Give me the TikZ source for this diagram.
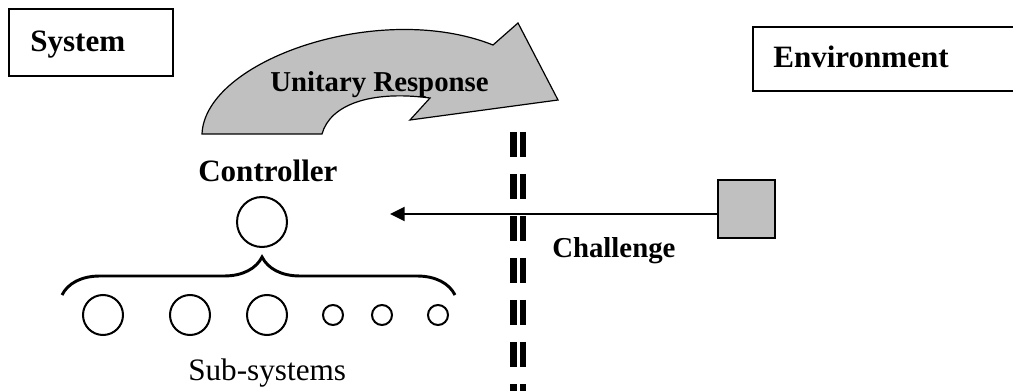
\documentclass[tikz,border=0pt]{standalone}
\usepackage{fontspec}
\setmainfont{Liberation Serif}
\usetikzlibrary{decorations.pathreplacing,arrows.meta}
\definecolor{shade}{HTML}{C0C0C0}
\begin{document}
\begin{tikzpicture}[x=0.75pt,y=-0.75pt,
  frame/.style={draw, line width=1.2pt, inner sep=0pt},
  bigtxt/.style={anchor=base west, inner sep=0pt, font=\fontsize{23.3pt}{28pt}\selectfont\bfseries},
  midtxt/.style={anchor=base west, inner sep=0pt, font=\fontsize{21.6pt}{26pt}\selectfont\bfseries},
  plaintxt/.style={anchor=base west, inner sep=0pt, font=\fontsize{23.4pt}{28pt}\selectfont},
  unit/.style={draw, circle, line width=1.5pt, inner sep=0pt},
  ctrl/.style={unit, minimum size=37.5pt},
  bigsub/.style={unit, minimum size=30pt},
  smallsub/.style={unit, minimum size=15pt},
  barrier/.style={line width=4.9pt, dash pattern=on 18.75pt off 12.75pt},
  response/.style={draw, line width=0.9pt, fill=shade, line join=miter}
]
\useasboundingbox (0,0) rectangle (1013,391);

% system and environment frames
\node[frame, minimum width=123pt, minimum height=50.25pt] (sys) at (91,42.5) {};
\node[bigtxt] (systxt) at (30,52) {System};
\node[frame, minimum width=200.25pt, minimum height=48pt] (env) at (886.5,59) {};
\node[bigtxt] (envtxt) at (773,68) {Environment};

% curved response arrow
\path[response] (202,134) .. controls (205,60) and (380,0) .. (493,45)
  -- (518,23) -- (558,100) -- (410,120) -- (430,98)
  .. controls (370,90) and (330,105) .. (322,134) -- cycle;
\node[midtxt] (resp) at (270,92) {Unitary Response};

% boundary between system and environment
\draw[barrier] (513.3,132) -- (513.3,400);
\draw[barrier] (523,132) -- (523,400);

% controller and sub-systems
\node[bigtxt] (ctrltxt) at (198,182) {Controller};
\node[ctrl] (ctrl) at (262,222) {};
\coordinate (bl) at (62,295);
\coordinate (br) at (455,295);
\draw[line width=2.2pt, decorate, decoration={brace, amplitude=28.5pt, aspect=0.509}] (bl) -- (br);
\node[bigsub] (s1) at (103,315) {};
\node[bigsub] (s2) at (190,315) {};
\node[bigsub] (s3) at (267,315) {};
\node[smallsub] (s4) at (333,315) {};
\node[smallsub] (s5) at (382,315) {};
\node[smallsub] (s6) at (438,315) {};
\node[plaintxt] (subtxt) at (188,380) {Sub-systems};

% challenge from the environment
\node[draw, line width=1.5pt, fill=shade, minimum size=43pt, inner sep=0pt] (sq) at (746.5,209) {};
\coordinate (ctip) at (390,214);
\draw[line width=1.5pt, {Triangle[length=11pt,width=10.5pt]}-] (ctip) -- (ctip -| sq.west);
\node[midtxt] (chal) at (552,258) {Challenge};
\end{tikzpicture}
\end{document}
